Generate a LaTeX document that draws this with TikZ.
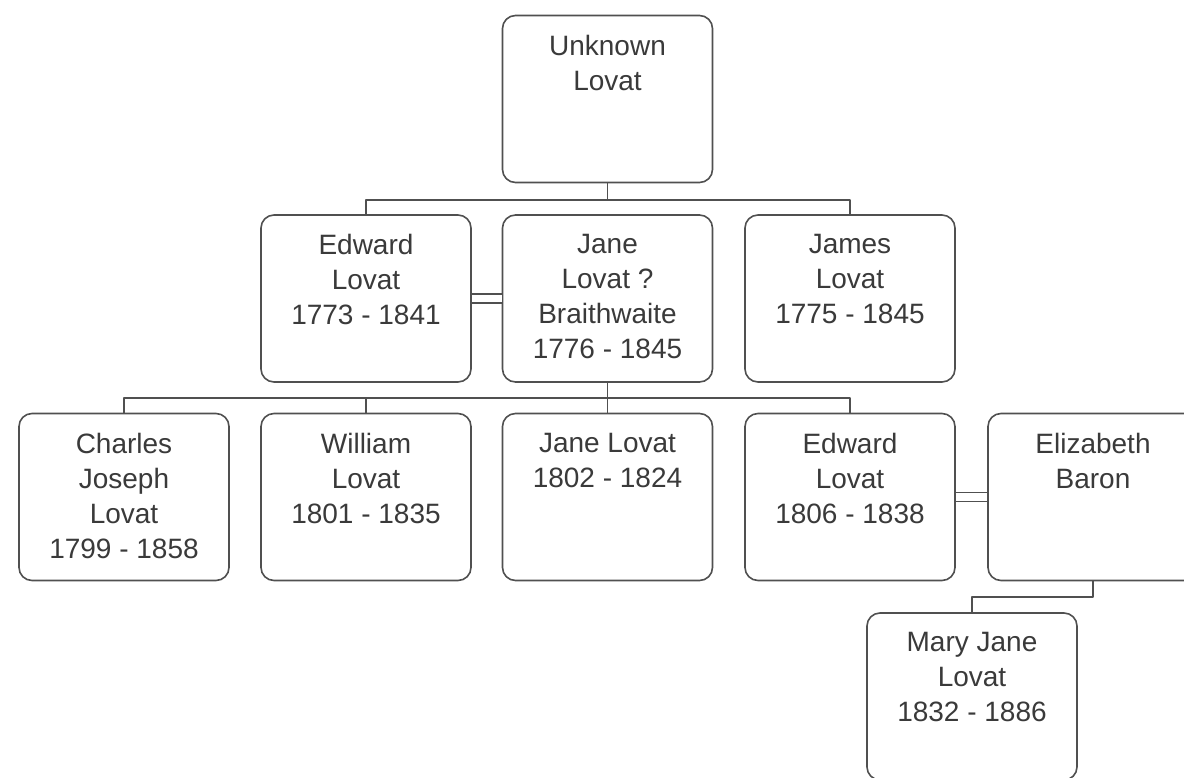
\documentclass[tikz,border=0pt]{standalone}
\usepackage{fontspec}
\setmainfont{Liberation Sans}
\definecolor{ink}{HTML}{3A3A3A}
\definecolor{edge}{HTML}{505050}
\tikzset{
  box/.style={draw=edge, line width=0.8pt, rounded corners=6.5pt, fill=white, minimum width=105pt, minimum height=83.5pt, inner sep=0pt},
  who/.style={anchor=north, align=center, text=ink, inner sep=0pt, yshift=-10pt},
  person/.style={box, label={[who]north:#1}},
  link/.style={draw=edge, line width=0.8pt},
  wed/.style={link, line cap=butt, double, double distance=3.7pt},
}
\begin{document}
\begin{tikzpicture}[x=0.5pt, y=-0.5pt, font=\fontsize{14pt}{17.5pt}\selectfont, line join=round, line cap=round]
\useasboundingbox (0,0) rectangle (1184,777);
\clip (0,0) rectangle (1184,777);
% first generation
\node[person={Unknown\\Lovat}] (unk) at (607.5,99) {};
% second generation
\node[person={Edward\\Lovat\\1773 - 1841}] (ed1) at (366,298.5) {};
\node[person={Jane\\Lovat ?\\Braithwaite\\1776 - 1845}] (jane1) at (607.5,298.5) {};
\node[person={James\\Lovat\\1775 - 1845}] (james) at (850,298.5) {};
% third generation
\node[person={Charles\\Joseph\\Lovat\\1799 - 1858}] (charles) at (124,497) {};
\node[person={William\\Lovat\\1801 - 1835}] (william) at (366,497) {};
\node[person={Jane Lovat\\1802 - 1824}] (jane2) at (607.5,497) {};
\node[person={Edward\\Lovat\\1806 - 1838}] (ed2) at (850,497) {};
\node[person={Elizabeth\\Baron}] (eliz) at (1093,497) {};
% fourth generation
\node[person={Mary Jane\\Lovat\\1832 - 1886}] (mary) at (972,696.5) {};
\coordinate (bus1) at (0,200);
\coordinate (bus2) at (0,398);
\coordinate (bus3) at (0,597);
\draw[link] (unk.south) -- (unk.south |- bus1);
\draw[link] (ed1.north) |- (bus1 -| james.north) -- (james.north);
\draw[wed] (ed1.east) -- (jane1.west);
\draw[link] (jane1.south) -- (jane2.north);
\draw[link] (charles.north) |- (bus2 -| ed2.north) -- (ed2.north);
\foreach \c in {william}{\draw[link] (\c.north) -- (\c.north |- bus2);}
\draw[wed] (ed2.east) -- (eliz.west);
\draw[link] (eliz.south) -- (eliz.south |- bus3) -| (mary.north);
\end{tikzpicture}
\end{document}
